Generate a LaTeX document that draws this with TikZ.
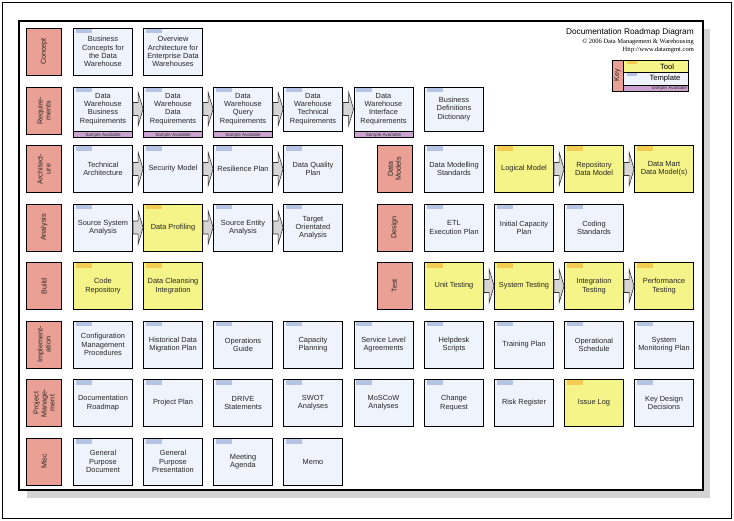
\documentclass[tikz,border=0pt]{standalone}
\usepackage{fontspec}
\setmainfont{Liberation Sans}
\newfontfamily\urlserif{Liberation Serif}
\usetikzlibrary{positioning,calc}
\definecolor{catpink}{RGB}{234,160,148}
\definecolor{docblue}{RGB}{238,243,252}
\definecolor{toolyellow}{RGB}{244,244,136}
\definecolor{tagblue}{RGB}{182,196,228}
\definecolor{tagyellow}{RGB}{244,204,84}
\definecolor{samplepurple}{RGB}{204,162,208}
\definecolor{shadowgray}{RGB}{212,212,212}
\definecolor{flowgray}{RGB}{214,214,214}
\newcommand{\docsize}{\fontsize{7.4}{8.2}\selectfont}
\newcommand{\catsize}{\fontsize{7.2}{8}\selectfont}
\newcommand{\bandsize}{\fontsize{4.6}{5}\selectfont}
\tikzset{
    tabbed/.style={path picture={\fill[#1] ([shift={(2pt,-1pt)}]path picture bounding box.north west) rectangle ++(16pt,-4.5pt);}},
    keytab/.style={path picture={\fill[#1] ([shift={(4pt,-1pt)}]path picture bounding box.north west) rectangle ++(10pt,-3.5pt);}},
    doc/.style={rectangle, draw, line width=0.9pt, fill=docblue, minimum width=59pt, minimum height=47pt, inner sep=1pt, align=center, font=\docsize, text=black!85, tabbed=tagblue},
    tool/.style={doc, fill=toolyellow, tabbed=tagyellow},
    reqdoc/.style={doc, minimum height=44pt},
    cat/.style={rectangle, draw, line width=0.9pt, fill=catpink, rotate=90, minimum width=47pt, minimum height=35pt, inner sep=1pt, align=center, font=\catsize, text=black!85},
    sample/.style={rectangle, draw, line width=0.9pt, fill=samplepurple, minimum width=59pt, minimum height=6pt, inner sep=0pt, font=\bandsize, text=black!80},
    keyrow/.style={rectangle, draw, line width=0.9pt, minimum width=65pt, inner sep=0pt},
    flow/.style={draw=black!80, line width=0.6pt, fill=flowgray, line join=miter, to path={let \p1=(\tikztostart), \p2=(\tikztotarget) in (\x1,\y1+6.5pt) -- (\x2-5pt,\y1+6.5pt) -- (\x2-5pt,\y1+17pt) -- (\x2,\y1) -- (\x2-5pt,\y1-17pt) -- (\x2-5pt,\y1-6.5pt) -- (\x1,\y1-6.5pt) -- cycle}}
}
\begin{document}
\begin{tikzpicture}[x=1pt, y=-1pt]
        \useasboundingbox (0, 0) rectangle (734, 521);
        \draw[line width=0.8pt] (2, 2) rectangle (731, 518);
        \fill[shadowgray] (27, 29) rectangle (710, 498);
        \draw[line width=1.2pt, fill=white] (19, 21) rectangle (703, 490);

        \node[anchor=east, inner sep=0pt, font=\fontsize{8.3}{9}\selectfont] (title) at (694, 32) {Documentation Roadmap Diagram};
        \node[anchor=east, inner sep=0pt, font=\urlserif\fontsize{6.5}{7}\selectfont] (copyright) at (694, 42) {\textcopyright{} 2006 Data Management \& Warehousing};
        \node[anchor=east, inner sep=0pt, font=\urlserif\fontsize{6.5}{7}\selectfont] (website) at (694, 50) {Http://www.datamgmt.com};

        \node[cat, minimum width=31pt, minimum height=11pt, inner sep=0pt] (key) at (617.5, 75.5) {Key};
        \node[keyrow, fill=toolyellow, minimum height=12pt, keytab=tagyellow] (keytool) at (655.5, 66) {};
        \node[keyrow, fill=docblue, minimum height=13pt, keytab=tagblue] (keytemplate) at (655.5, 78.5) {};
        \node[sample, minimum width=65pt, text width=63pt, align=right] (keysample) at (655.5, 88) {Sample Available};
        \node[font=\fontsize{7.6}{8}\selectfont, inner sep=0pt] (tooltext) at (667, 66.5) {Tool};
        \node[font=\fontsize{7.6}{8}\selectfont, inner sep=0pt] (templatetext) at (665, 79) {Template};

        \node[cat] (concept) at (44, 51.5) {Concept};
        \node[cat] (req) at (44, 110.5) {Require-\\ments};
        \node[cat] (arch) at (44, 169) {Architect-\\ure};
        \node[cat] (analysis) at (44, 227.5) {Analysis};
        \node[cat] (build) at (44, 286) {Build};
        \node[cat] (impl) at (44, 344.5) {Implement-\\ation};
        \node[cat] (pm) at (44, 403) {Project\\Manage-\\ment};
        \node[cat] (misc) at (44, 461.5) {Misc};
        \node[cat] (datamodels) at (394.5, 169) {Data\\Models};
        \node[cat] (design) at (394.5, 227.5) {Design};
        \node[cat] (test) at (394.5, 286) {Test};

        \node[doc] (bizconcepts) at (103, 51.5) {Business\\Concepts for\\the Data\\Warehouse};
        \node[doc] (overview) at (173, 51.5) {Overview\\Architecture for\\Enterprise Data\\Warehouses};

        \node[reqdoc] (bizreq) at (103, 109) {Data\\Warehouse\\Business\\Requirements};
        \node[reqdoc] (datareq) at (173, 109) {Data\\Warehouse\\Data\\Requirements};
        \node[reqdoc] (queryreq) at (243, 109) {Data\\Warehouse\\Query\\Requirements};
        \node[reqdoc] (techreq) at (313, 109) {Data\\Warehouse\\Technical\\Requirements};
        \node[reqdoc] (ifacereq) at (383.5, 109) {Data\\Warehouse\\Interface\\Requirements};
        \node[reqdoc] (bizdefs) at (454, 109) {Business\\Definitions\\Dictionary};
        \node[sample, below=0pt of bizreq] (bizreqsample) {Sample Available};
        \node[sample, below=0pt of datareq] (datareqsample) {Sample Available};
        \node[sample, below=0pt of queryreq] (queryreqsample) {Sample Available};
        \node[sample, below=0pt of ifacereq] (ifacereqsample) {Sample Available};

        \node[doc] (techarch) at (103, 169) {Technical\\Architecture};
        \node[doc] (secmodel) at (173, 169) {Security Model};
        \node[doc] (resplan) at (243, 169) {Resilience Plan};
        \node[doc] (dqplan) at (313, 169) {Data Quality\\Plan};
        \node[doc] (dmstandards) at (454, 169) {Data Modelling\\Standards};
        \node[tool] (logical) at (524, 169) {Logical Model};
        \node[tool] (repmodel) at (594, 169) {Repository\\Data Model};
        \node[tool] (martmodel) at (664, 169) {Data Mart\\Data Model(s)};

        \node[doc] (srcsystem) at (103, 227.5) {Source System\\Analysis};
        \node[tool] (profiling) at (173, 227.5) {Data Profiling};
        \node[doc] (srcentity) at (243, 227.5) {Source Entity\\Analysis};
        \node[doc] (target) at (313, 227.5) {Target\\Orientated\\Analysis};
        \node[doc] (etlplan) at (454, 227.5) {ETL\\Execution Plan};
        \node[doc] (capplan) at (524, 227.5) {Initial Capacity\\Plan};
        \node[doc] (coding) at (594, 227.5) {Coding\\Standards};

        \node[tool] (coderepo) at (103, 286) {Code\\Repository};
        \node[tool] (cleansing) at (173, 286) {Data Cleansing\\Integration};
        \node[tool] (unittest) at (454, 286) {Unit Testing};
        \node[tool] (systest) at (524, 286) {System Testing};
        \node[tool] (inttest) at (594, 286) {Integration\\Testing};
        \node[tool] (perftest) at (664, 286) {Performance\\Testing};

        \node[doc] (config) at (103, 344.5) {Configuration\\Management\\Procedures};
        \node[doc] (migration) at (173, 344.5) {Historical Data\\Migration Plan};
        \node[doc] (opsguide) at (243, 344.5) {Operations\\Guide};
        \node[doc] (capacity) at (313, 344.5) {Capacity\\Planning};
        \node[doc] (sla) at (383.5, 344.5) {Service Level\\Agreements};
        \node[doc] (helpdesk) at (454, 344.5) {Helpdesk\\Scripts};
        \node[doc] (training) at (524, 344.5) {Training Plan};
        \node[doc] (schedule) at (594, 344.5) {Operational\\Schedule};
        \node[doc] (monitoring) at (664, 344.5) {System\\Monitoring Plan};

        \node[doc] (roadmap) at (103, 403) {Documentation\\Roadmap};
        \node[doc] (projplan) at (173, 403) {Project Plan};
        \node[doc] (drive) at (243, 403) {DRIVE\\Statements};
        \node[doc] (swot) at (313, 403) {SWOT\\Analyses};
        \node[doc] (moscow) at (383.5, 403) {MoSCoW\\Analyses};
        \node[doc] (change) at (454, 403) {Change\\Request};
        \node[doc] (risk) at (524, 403) {Risk Register};
        \node[tool] (issues) at (594, 403) {Issue Log};
        \node[doc] (decisions) at (664, 403) {Key Design\\Decisions};

        \node[doc] (gendoc) at (103, 461.5) {General\\Purpose\\Document};
        \node[doc] (genpres) at (173, 461.5) {General\\Purpose\\Presentation};
        \node[doc] (agenda) at (243, 461.5) {Meeting\\Agenda};
        \node[doc] (memo) at (313, 461.5) {Memo};

        \draw [flow] (bizreq.east) to (datareq.west);
        \draw [flow] (datareq.east) to (queryreq.west);
        \draw [flow] (queryreq.east) to (techreq.west);
        \draw [flow] (techreq.east) to (ifacereq.west);
        \draw [flow] (techarch.east) to (secmodel.west);
        \draw [flow] (secmodel.east) to (resplan.west);
        \draw [flow] (resplan.east) to (dqplan.west);
        \draw [flow] (logical.east) to (repmodel.west);
        \draw [flow] (repmodel.east) to (martmodel.west);
        \draw [flow] (srcsystem.east) to (profiling.west);
        \draw [flow] (profiling.east) to (srcentity.west);
        \draw [flow] (srcentity.east) to (target.west);
        \draw [flow] (unittest.east) to (systest.west);
        \draw [flow] (systest.east) to (inttest.west);
        \draw [flow] (inttest.east) to (perftest.west);
    \end{tikzpicture}
\end{document}
